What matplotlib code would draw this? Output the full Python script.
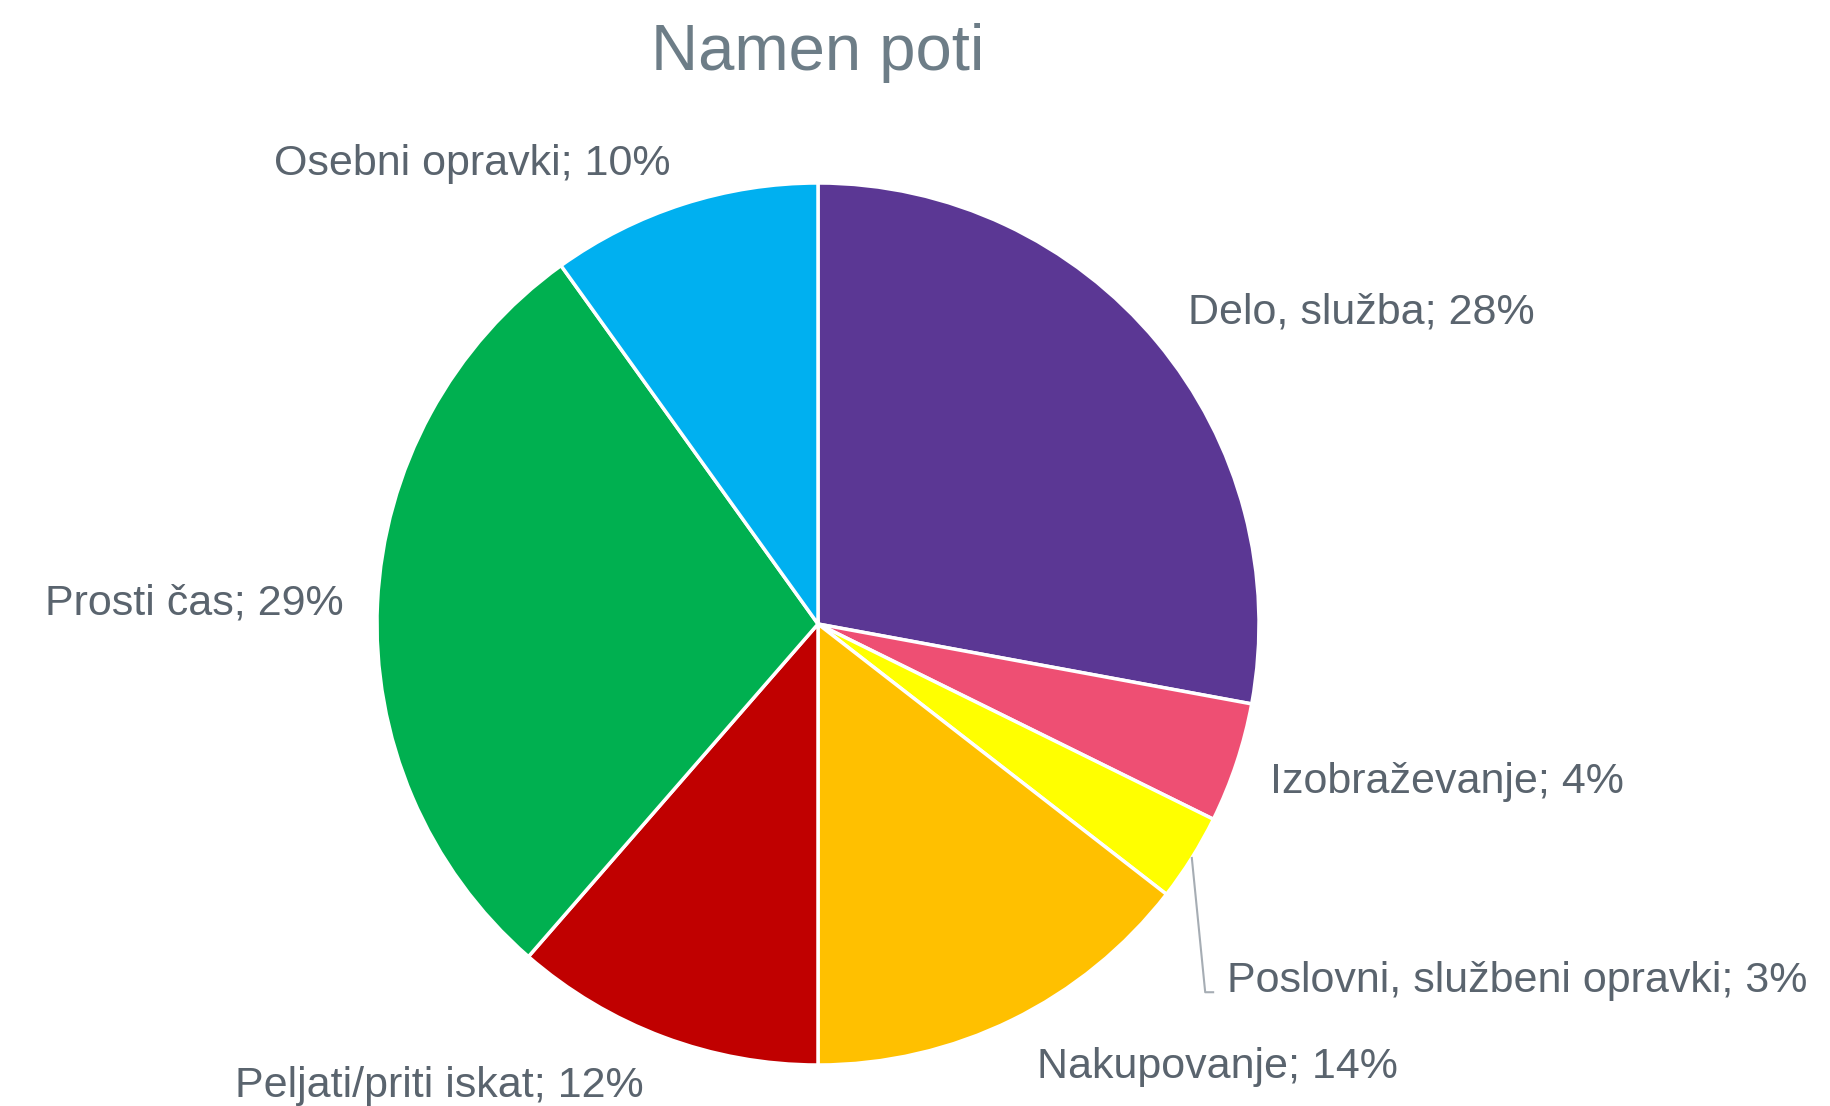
import matplotlib
matplotlib.use('Agg')
import matplotlib.pyplot as plt
import numpy as np

plt.rcParams['font.family'] = ['Liberation Sans', 'DejaVu Sans']

# data, clockwise from 12 o'clock
labels = ["Delo, služba", "Izobraževanje", "Poslovni, službeni opravki",
          "Nakupovanje", "Peljati/priti iskat", "Prosti čas", "Osebni opravki"]
shares = [27.9, 4.4, 3.2, 14.5, 11.4, 28.7, 9.9]
pct_text = ["28%", "4%", "3%", "14%", "12%", "29%", "10%"]
colors = ["#5B3794", "#EE4F73", "#FFFF00", "#FFC000", "#C00000", "#00B050", "#00B0F0"]

# label placement (axes data units, pie radius = 1), text baseline
label_pos = [(1.231, 0.682), (1.426, -0.384), (1.585, -0.835),
             (0.905, -1.03), (-0.859, -1.073), (-1.415, 0.021), (-0.785, 1.018)]

W, H = 1830, 1106
fig = plt.figure(figsize=(W / 100, H / 100), dpi=100)
cx, cy, R = 818, 624, 441
ax = fig.add_axes([(cx - R) / W, (H - cy - R) / H, 2 * R / W, 2 * R / H])

wedges, _ = ax.pie(shares, colors=colors, startangle=90, counterclock=False,
                   radius=1, wedgeprops=dict(edgecolor="white", linewidth=2.5))
ax.set_xlim(-1, 1)
ax.set_ylim(-1, 1)
ax.axis('off')

label_color = "#5A646E"
for i, (lab, p) in enumerate(zip(labels, pct_text)):
    x, y = label_pos[i]
    ax.text(x, y, f"{lab}; {p}", ha='center', va='baseline', fontsize=31,
            color=label_color, clip_on=False)

# leader line for the small slice
w = wedges[2]
mid = np.deg2rad((w.theta1 + w.theta2) / 2)
x0, y0 = np.cos(mid), np.sin(mid)
ax.plot([x0, 0.878, 0.896], [y0, -0.835, -0.835], color="#A6ADB4", lw=1.5,
        clip_on=False)

fig.text(cx / W, 1 - 70 / H, "Namen poti", ha='center', va='baseline',
         fontsize=47, color="#6D7D87")

fig.savefig("out.png", dpi=100, facecolor="white")
